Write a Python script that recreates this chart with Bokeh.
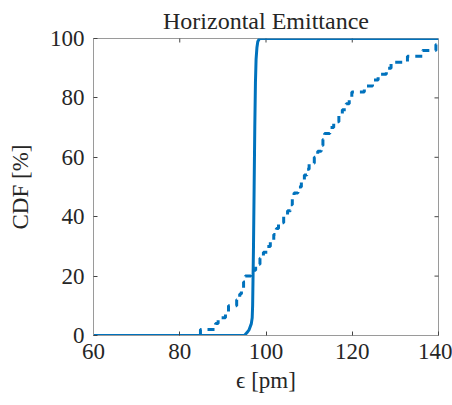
import math
from bokeh.plotting import figure
from bokeh.models import FixedTicker, Range1d
from bokeh.embed import file_html
from bokeh.resources import INLINE

# ---- data ----
x_ticks = [60, 80, 100, 120, 140]
y_ticks = [0, 20, 40, 60, 80, 100]

# solid curve (smooth CDF), emittance [pm] vs CDF [%]
solid_x = [60.0, 95.0, 95.6, 96.1, 96.6, 96.8, 96.9, 97.0, 97.1, 97.25, 97.4, 97.55, 97.7, 97.9, 98.1, 98.5, 140.0]
solid_y = [0, 0, 1, 2, 4, 6, 10, 20, 30, 50, 70, 85, 93, 97, 99, 100, 100]

# dashed curve: sorted samples of emittance [pm] (empirical CDF)
dashed_samples = [84.8, 88.3, 88.9, 90.6, 91.3, 93.2, 93.9, 94.3, 94.8, 95.2,
                  96.5, 97.6, 98.6, 99.4, 100.3, 101.0, 101.8, 102.4, 102.9, 104.1,
                  105.0, 105.7, 106.1, 106.5, 107.4, 108.2, 108.9, 109.5, 110.0, 111.2,
                  112.0, 112.8, 113.2, 113.6, 114.8, 115.7, 116.9, 117.7, 118.6, 119.3,
                  119.9, 122.8, 124.7, 126.0, 127.9, 129.0, 132.8, 136.3, 139.4, 143.0]

title_text = "Horizontal Emittance"
x_label = "\u03f5 [pm]"
y_label = "CDF [%]"

X_MIN, X_MAX = 60, 140
Y_MIN, Y_MAX = 0, 100

# ---- build step CDF from samples ----
n = len(dashed_samples)
sx, sy = [], []
for i, v in enumerate(dashed_samples):
    sx += [v, v]
    sy += [100.0 * i / n, 100.0 * (i + 1) / n]

BLUE = "#0072BD"
FONT = "Liberation Serif"
AX = "#9a9a9a"
TXT = "#262626"
TICK = "#444444"

p = figure(width=452, height=405, output_backend="svg", toolbar_location=None,
           x_range=Range1d(X_MIN, X_MAX), y_range=Range1d(Y_MIN, Y_MAX),
           min_border_left=93, min_border_right=14, min_border_top=37, min_border_bottom=70,
           x_axis_label=x_label, y_axis_label=y_label, title=title_text)

p.background_fill_color = "white"
p.border_fill_color = "white"
p.outline_line_color = AX
p.xgrid.visible = False
p.ygrid.visible = False

p.title.text_font = FONT
p.title.text_font_size = "24px"
p.title.text_font_style = "normal"
p.title.align = "center"
p.title.text_color = TXT
p.title.offset = 0

for ax in [p.xaxis[0], p.yaxis[0]]:
    ax.major_label_text_font = FONT
    ax.major_label_text_font_size = "23px"
    ax.major_label_text_color = TXT
    ax.axis_label_text_font = FONT
    ax.axis_label_text_font_size = "23px"
    ax.axis_label_text_font_style = "normal"
    ax.axis_label_text_color = TXT
    ax.axis_line_color = AX
    ax.major_tick_line_color = TICK
    ax.major_tick_in = 4
    ax.major_tick_out = 0
    ax.minor_tick_line_color = None

p.xaxis[0].ticker = FixedTicker(ticks=x_ticks)
p.yaxis[0].ticker = FixedTicker(ticks=y_ticks)
p.xaxis[0].major_label_standoff = 8
p.yaxis[0].major_label_standoff = 9
p.xaxis[0].axis_label_standoff = 6
p.yaxis[0].axis_label_standoff = 14

# box ticks on the top and right edges (inward), half of each dash is clipped by the frame
p.scatter(x_ticks[1:-1], [Y_MAX] * (len(x_ticks) - 2), marker="dash", size=8,
          angle=math.pi / 2, line_color=TICK, line_width=1)
p.scatter([X_MAX] * (len(y_ticks) - 2), y_ticks[1:-1], marker="dash", size=8,
          angle=0, line_color=TICK, line_width=1)

p.line(sx, sy, line_color=BLUE, line_width=3, line_dash="7 6")
p.line(solid_x, solid_y, line_color=BLUE, line_width=3)

open("out.html", "w").write(file_html(p, INLINE))
